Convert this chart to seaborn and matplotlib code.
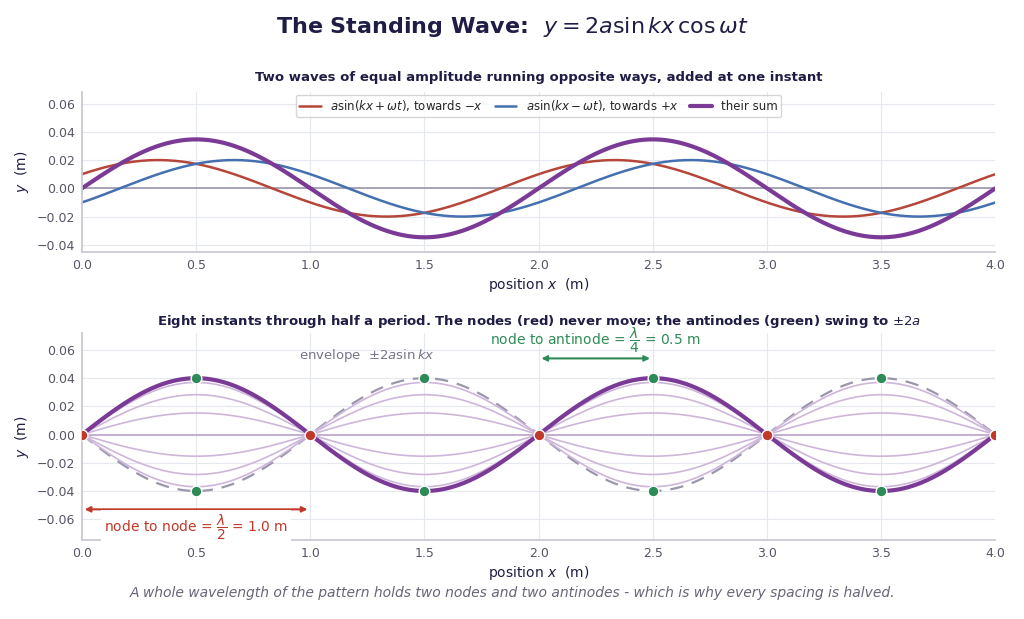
import numpy as np
import matplotlib
matplotlib.use("Agg")
import matplotlib.pyplot as plt
import seaborn as sns

# parameters
amplitude = 0.02          # a (m)
wavelength = 2.0          # lambda (m)
phase_top = np.pi / 6     # omega*t at the shown instant
instant_factors = [1.0, 0.924, 0.707, 0.383, 0.0, -0.383, -0.707, -0.924]  # cos(omega t) for 8 instants
node_x = [0.0, 1.0, 2.0, 3.0, 4.0]
antinode_x = [0.5, 1.5, 2.5, 3.5]

sns.set_theme(style="whitegrid")
plt.rcParams['font.family'] = ['DejaVu Sans']
navy = "#1f1d45"
red = "#b5473a"; blue = "#4470b0"; purple = "#7b3a96"; green = "#2e8b57"; nodec = "#c0392b"
grid_c = "#e6e8ef"

fig = plt.figure(figsize=(10.24, 6.19), dpi=100)
ax1 = fig.add_axes([0.080, 0.593, 0.892, 0.258])
ax2 = fig.add_axes([0.080, 0.127, 0.892, 0.335])

x = np.linspace(0, 4, 800)
k = 2 * np.pi / wavelength
w1 = amplitude * np.sin(k * x + phase_top)
w2 = amplitude * np.sin(k * x - phase_top)
sns.lineplot(x=x, y=w1, ax=ax1, color=red, lw=1.8, label=r"$a\sin(kx+\omega t)$, towards $-x$")
sns.lineplot(x=x, y=w2, ax=ax1, color=blue, lw=1.8, label=r"$a\sin(kx-\omega t)$, towards $+x$")
sns.lineplot(x=x, y=w1 + w2, ax=ax1, color=purple, lw=3, label="their sum")
ax1.axhline(0, color="#9a96ad", lw=1.2, zorder=1)
ax1.set_xlim(0, 4); ax1.set_ylim(-0.045, 0.068)
ax1.set_yticks([-0.04, -0.02, 0, 0.02, 0.04, 0.06])
ax1.set_yticklabels(["−0.04", "−0.02", "0.00", "0.02", "0.04", "0.06"])
ax1.legend(loc="upper center", ncol=3, fontsize=8.5, frameon=True, borderpad=0.3,
           handlelength=1.8, columnspacing=1.0, bbox_to_anchor=(0.5, 1.02))
ax1.set_title("Two waves of equal amplitude running opposite ways, added at one instant",
              fontsize=9.5, fontweight="bold", color=navy, pad=8)

env = 2 * amplitude * np.sin(k * x)
ax2.plot(x, env, color="#9a96ad", lw=1.6, ls=(0, (6, 4)), zorder=2)
ax2.plot(x, -env, color="#9a96ad", lw=1.6, ls=(0, (6, 4)), zorder=2)
for f in instant_factors[1:]:
    ax2.plot(x, env * f, color="#cdb6da", lw=1.2, zorder=2)
sns.lineplot(x=x, y=env * instant_factors[0], ax=ax2, color=purple, lw=3, zorder=3)
ax2.axhline(0, color="#8e8aa3", lw=1.2, zorder=1)
ax2.scatter(node_x, [0] * len(node_x), s=60, color=nodec, edgecolor="white", lw=1, zorder=5)
ay = [2 * amplitude * np.sin(k * xx) for xx in antinode_x]
ax2.scatter(antinode_x + antinode_x, ay + [-v for v in ay], s=60, color=green,
            edgecolor="white", lw=1, zorder=5)
ax2.annotate("", xy=(0, -0.053), xytext=(1, -0.053),
             arrowprops=dict(arrowstyle="<|-|>", color=nodec, lw=1.5, mutation_scale=8))
ax2.text(0.5, -0.066, r"node to node = $\dfrac{\lambda}{2}$ = 1.0 m", color=nodec, fontsize=10,
         ha="center", va="center", bbox=dict(fc="white", ec="none", pad=2), zorder=6)
ax2.annotate("", xy=(2, 0.054), xytext=(2.5, 0.054),
             arrowprops=dict(arrowstyle="<|-|>", color=green, lw=1.5, mutation_scale=8))
ax2.text(2.25, 0.067, r"node to antinode = $\dfrac{\lambda}{4}$ = 0.5 m", color=green, fontsize=10,
         ha="center", va="center")
ax2.text(1.25, 0.056, r"envelope  $\pm 2a\sin kx$", color="#77758a", fontsize=9.5, ha="center", va="center")
ax2.set_xlim(0, 4); ax2.set_ylim(-0.075, 0.072)
ax2.set_yticks([-0.06, -0.04, -0.02, 0, 0.02, 0.04, 0.06])
ax2.set_yticklabels(["−0.06", "−0.04", "−0.02", "0.00", "0.02", "0.04", "0.06"])
ax2.set_title(r"Eight instants through half a period. The nodes (red) never move; the antinodes (green) swing to $\pm 2a$",
              fontsize=9.5, fontweight="bold", color=navy, pad=6)

for ax in (ax1, ax2):
    ax.set_facecolor("white")
    ax.grid(True, color=grid_c, lw=0.8)
    ax.set_xticks(np.arange(0, 4.01, 0.5))
    ax.set_xticklabels([f"{v:.1f}" for v in np.arange(0, 4.01, 0.5)])
    ax.tick_params(labelsize=9, colors="#555566", length=3, pad=2)
    for s in ("top", "right"):
        ax.spines[s].set_visible(False)
    for s in ("left", "bottom"):
        ax.spines[s].set_color("#c8c8d0")
    ax.set_xlabel(r"position $x$  (m)", fontsize=10, color=navy, labelpad=3)
    ax.set_ylabel(r"$y$  (m)", fontsize=10, color=navy, labelpad=4)

fig.suptitle(r"The Standing Wave:  $y = 2a\sin kx\,\cos\omega t$", fontsize=16, fontweight="bold",
             color=navy, y=0.975)
fig.text(0.5, 0.035, "A whole wavelength of the pattern holds two nodes and two antinodes - which is why every spacing is halved.",
         ha="center", fontsize=10, style="italic", color="#666677")
fig.savefig("out.png", dpi=100)
